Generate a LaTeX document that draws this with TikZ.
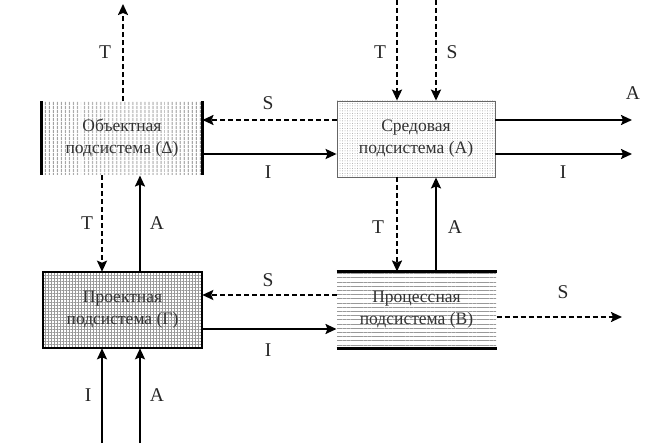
\documentclass[tikz,border=0pt]{standalone}
\usepackage{fontspec}
\setmainfont{Liberation Serif}
\usetikzlibrary{arrows.meta,patterns.meta,calc}
\begin{document}
\begin{tikzpicture}[x=1pt,y=-1pt,
  box/.style={minimum width=160pt,minimum height=76pt,inner sep=0pt,align=center,
    font=\fontsize{17.5}{22}\selectfont,text=black!80},
  sol/.style={line width=2pt,-{Stealth[length=11pt,width=10pt,inset=2pt]}},
  dsh/.style={sol,dash pattern=on 5pt off 3pt},
  lbl/.style={font=\fontsize{19.5}{21}\selectfont,text=black!85},
  thickborder/.style={line width=2.8pt}]
\useasboundingbox (0,0) rectangle (656,446);
% boxes
\node[box,minimum height=73pt,pattern={Lines[angle=90,distance=4pt,line width=1pt]},pattern color=black!40] (D) at (122,138.5) {Объектная\\подсистема (Δ)};
\node[box,minimum width=158pt,draw=black!60,line width=0.8pt,pattern={Dots[distance=2.5pt,radius=0.5pt]},pattern color=black!35] (A) at (416,139) {Средовая\\подсистема (А)};
\node[box,minimum width=159pt,draw=black,line width=2.4pt,pattern={Hatch[angle=0,distance=3pt,line width=0.6pt]},pattern color=black!40] (G) at (122.5,310) {Проектная\\подсистема (Г)};
\node[box,minimum width=159pt,pattern={Lines[angle=0,distance=4.2pt,line width=1pt]},pattern color=black!40] (B) at (416.5,310) {Процессная\\подсистема (В)};
\draw[thickborder] (D.north west) -- (D.south west) (D.north east) -- (D.south east);
\draw[thickborder] (B.north west) -- (B.north east) (B.south west) -- (B.south east);
% free ends
\coordinate (tout) at (123,4);
\coordinate (tin) at (397,0);
\coordinate (sin) at (436,0);
\coordinate (aout) at (632,120);
\coordinate (iout) at (632,154);
\coordinate (sout) at (622,317);
\coordinate (iin) at (102,443);
\coordinate (ain) at (140,443);
% connectors
\draw[dsh] (D.north -| tout) -- (tout);
\draw[dsh] (tin) -- (tin |- A.north);
\draw[dsh] (sin) -- (sin |- A.north);
\draw[dsh] (A.west |- aout) -- (D.east |- aout);
\draw[sol] (D.east |- iout) -- (A.west |- iout);
\draw[sol] (A.east |- aout) -- (aout);
\draw[sol] (A.east |- iout) -- (iout);
\draw[dsh] (D.south -| iin) -- (G.north -| iin);
\draw[sol] (G.north -| ain) -- (D.south -| ain);
\draw[dsh] (A.south -| tin) -- (B.north -| tin);
\draw[sol] (B.north -| sin) -- (A.south -| sin);
\draw[dsh] ($(B.west)+(0,-15)$) -- ($(G.east)+(0,-15)$);
\draw[sol] ($(G.east)+(0,19)$) -- ($(B.west)+(0,19)$);
\draw[dsh] (B.east |- sout) -- (sout);
\draw[sol] (iin) -- (iin |- G.south);
\draw[sol] (ain) -- (ain |- G.south);
% labels
\node[lbl] (l1) at (105,52) {T};
\node[lbl] (l2) at (380,52) {T};
\node[lbl] (l3) at (452,52) {S};
\node[lbl] (l4) at (268,103) {S};
\node[lbl] (l5) at (268,172) {I};
\node[lbl] (l6) at (633,93) {A};
\node[lbl] (l7) at (563,172) {I};
\node[lbl] (l8) at (87,223) {T};
\node[lbl] (l9) at (157,223) {A};
\node[lbl] (l10) at (378,227) {T};
\node[lbl] (l11) at (455,227) {A};
\node[lbl] (l12) at (268,280) {S};
\node[lbl] (l13) at (268,350) {I};
\node[lbl] (l14) at (563,292) {S};
\node[lbl] (l15) at (88,395) {I};
\node[lbl] (l16) at (157,395) {A};
\end{tikzpicture}
\end{document}
